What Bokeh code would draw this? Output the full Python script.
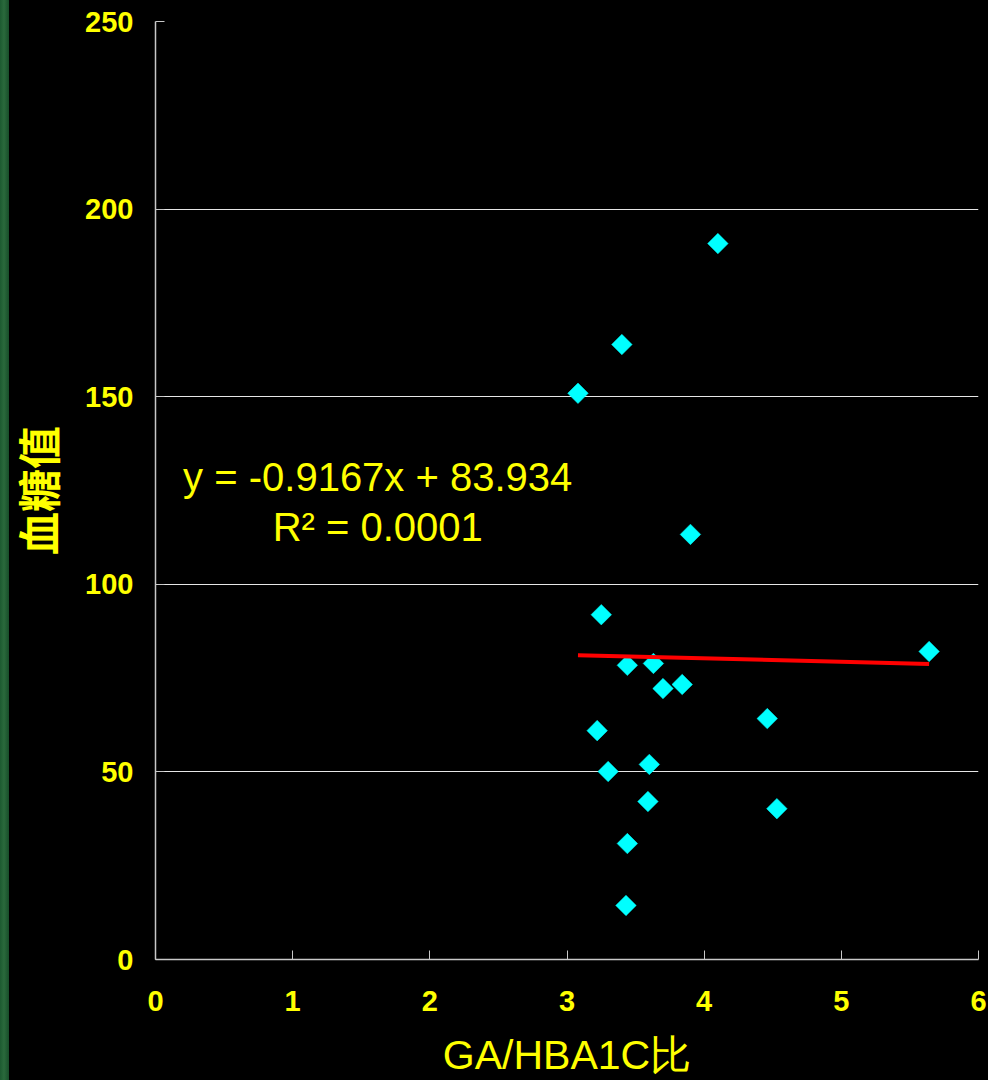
import numpy as np
from bokeh.plotting import figure
from bokeh.models import Range1d, FixedTicker, Label, ColumnDataSource
from bokeh.embed import file_html
from bokeh.resources import INLINE

# ---- data ----
ga_hba1c_ratio = [3.08, 3.40, 4.10, 3.90, 3.25, 3.44, 3.63, 3.70, 3.84,
                  5.64, 3.22, 4.46, 3.30, 3.60, 3.59, 4.53, 3.44, 3.43]
blood_glucose = [150.9, 163.9, 190.8, 113.3, 91.9, 78.4, 78.9, 72.2, 73.3,
                 82.1, 61.0, 64.2, 50.1, 52.0, 42.1, 40.2, 30.9, 14.4]
trend_slope = -0.9167
trend_intercept = 83.934
r_squared = "0.0001"
x_ticks = [0, 1, 2, 3, 4, 5, 6]
y_ticks = [0, 50, 100, 150, 200, 250]
grid_ticks = [50, 100, 150, 200]
x_title = "GA/HBA1C比"
y_title = "血糖值"

YELLOW = "#ffff00"
FONT = "Liberation Sans"

p = figure(width=988, height=1080, output_backend="svg", toolbar_location=None,
           x_range=Range1d(0, 6), y_range=Range1d(0, 250),
           background_fill_color="black", border_fill_color=None,
           outline_line_color=None,
           min_border_left=155, min_border_right=10,
           min_border_top=21, min_border_bottom=121)

# axes
p.xaxis.ticker = FixedTicker(ticks=x_ticks)
p.yaxis.ticker = FixedTicker(ticks=y_ticks)
for ax in (p.xaxis[0], p.yaxis[0]):
    ax.axis_line_color = "#c8c8c8"
    ax.axis_line_width = 1.5
    ax.major_tick_line_color = "#c8c8c8"
    ax.major_tick_in = 9
    ax.major_tick_out = 0
    ax.minor_tick_line_color = None
    ax.major_label_text_color = YELLOW
    ax.major_label_text_font = FONT
    ax.major_label_text_font_style = "bold"
    ax.major_label_text_font_size = "29px"
    ax.axis_label_text_color = YELLOW

p.xaxis.major_label_standoff = 31
p.yaxis.major_label_standoff = 22
p.xaxis.axis_label = x_title
p.xaxis.axis_label_text_font = FONT
p.xaxis.axis_label_text_font_style = "normal"
p.xaxis.axis_label_text_font_size = "41px"
p.xaxis.axis_label_standoff = 18
p.yaxis.axis_label = y_title
p.yaxis.axis_label_text_font = "Noto Sans CJK SC"
p.yaxis.axis_label_text_font_style = "bold"
p.yaxis.axis_label_text_font_size = "43px"
p.yaxis.axis_label_standoff = 14

# grid
p.xgrid.grid_line_color = None
p.ygrid.ticker = FixedTicker(ticks=grid_ticks)
p.ygrid.grid_line_color = "#e6e6e6"
p.ygrid.grid_line_width = 1.2

# points
src = ColumnDataSource(dict(x=ga_hba1c_ratio, y=blood_glucose))
p.scatter("x", "y", source=src, marker="square", angle=np.pi / 4,
          size=14.5, fill_color="#00ffff", line_color="#00ffff", line_width=0.5)

# trend line
tx = np.array([min(ga_hba1c_ratio), max(ga_hba1c_ratio)])
ty = trend_slope * tx + trend_intercept
p.line(tx, ty, line_color="#ff0000", line_width=4)

# equation labels
eq = f"y = {trend_slope}x + {trend_intercept}"
p.add_layout(Label(x=1.62, y=128.6, text=eq, text_align="center",
                   text_baseline="alphabetic", text_color=YELLOW,
                   text_font=FONT, text_font_size="40px"))
p.add_layout(Label(x=1.62, y=115.3, text=f"R² = {r_squared}", text_align="center",
                   text_baseline="alphabetic", text_color=YELLOW,
                   text_font=FONT, text_font_size="40px"))

template = """
{% block postamble %}
<style>
html, body { margin: 0 !important; padding: 0 !important; }
body { background: linear-gradient(to right, #1c5a30 0px, #2a6a3c 4px, #174d29 9px, #000 9px) !important; }
</style>
{% endblock %}
"""

open("out.html", "w").write(file_html(p, INLINE, template=template))
